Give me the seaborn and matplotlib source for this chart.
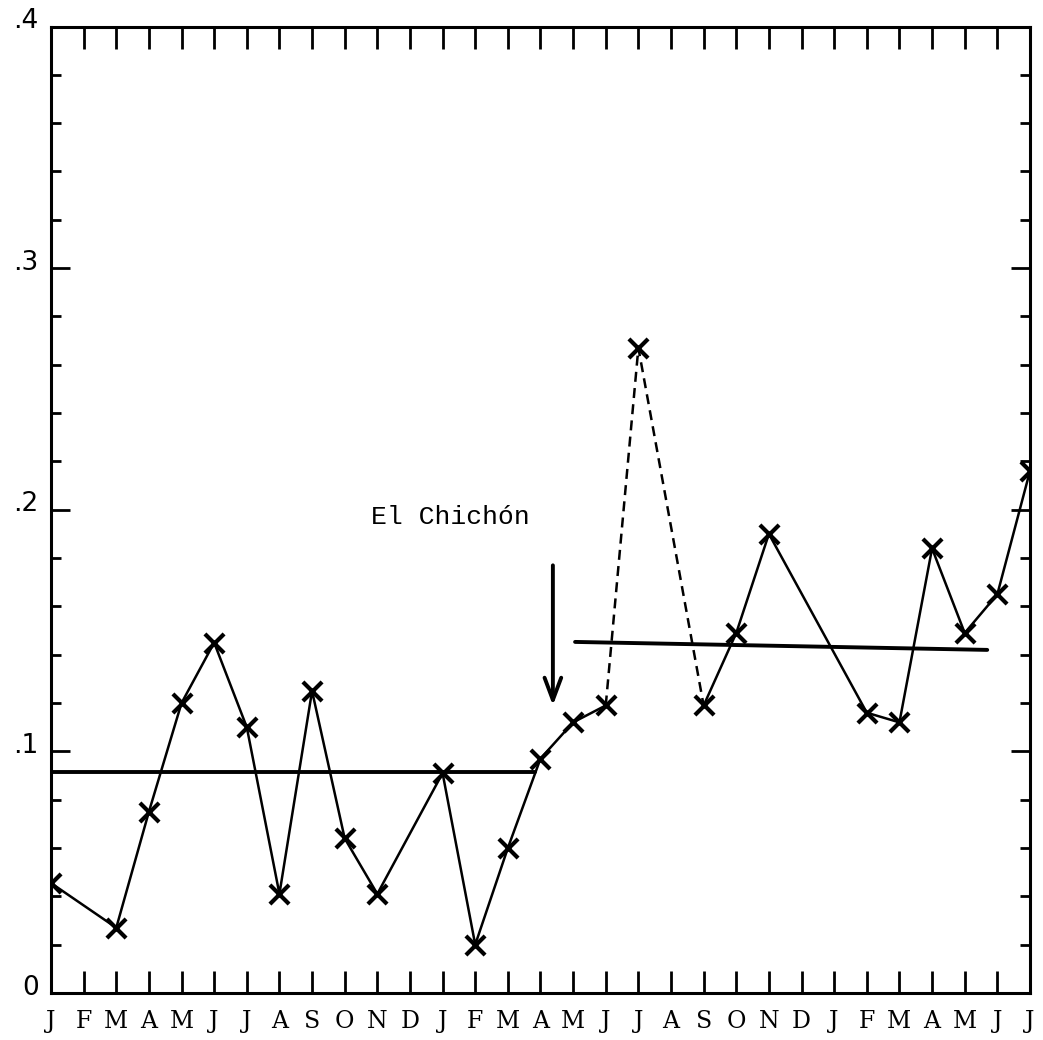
import matplotlib
matplotlib.use("Agg")
import matplotlib.pyplot as plt
import matplotlib.transforms as mtransforms
from matplotlib.ticker import MultipleLocator, FixedLocator, FixedFormatter
import pandas as pd
import seaborn as sns

# Month labels along the time axis (Jan of year 1 through Jul of year 3)
month_labels = "J F M A M J J A S O N D J F M A M J J A S O N D J F M A M J J".split()

# Monthly observations (month index from the first January)
month_idx = [0, 2, 3, 4, 5, 6, 7, 8, 9, 10, 12, 13, 14, 15, 16, 17,
             18, 20, 21, 22, 25, 26, 27, 28, 29, 30]
values = [0.0455, 0.027, 0.075, 0.120, 0.145, 0.110, 0.041, 0.125, 0.064,
          0.041, 0.091, 0.020, 0.060, 0.097, 0.112, 0.119, 0.267, 0.119,
          0.149, 0.190, 0.116, 0.112, 0.184, 0.149, 0.165, 0.216]

# Months joined by a dashed segment (uncertain spike)
dashed_months = [17, 18, 20]

# Mean levels before and after the eruption
mean_before_x = [0.0, 14.83]
mean_before_y = [0.0915, 0.0915]
mean_after_x = [16.06, 28.69]
mean_after_y = [0.1453, 0.1420]

# Eruption marker
eruption_month = 15.38
arrow_top, arrow_tip = 0.177, 0.119
label_text = "El Chichón"
label_pos = (9.80, 0.197)

y_tick_vals = [0.0, 0.1, 0.2, 0.3, 0.4]
y_tick_labels = ["0", ".1", ".2", ".3", ".4"]

sns.set_style("ticks")
plt.rcParams["font.family"] = ["DejaVu Sans"]
plt.rcParams["text.color"] = "black"
plt.rcParams["xtick.color"] = "black"
plt.rcParams["ytick.color"] = "black"
plt.rcParams["xtick.labelcolor"] = "black"
plt.rcParams["ytick.labelcolor"] = "black"

df = pd.DataFrame({"month": month_idx, "value": values})
solid_a = df[df["month"] <= 17]
dashed = df[df["month"].isin(dashed_months)]
solid_b = df[df["month"] >= 20]

fig = plt.figure(figsize=(10.43, 10.40), dpi=100)
ax = fig.add_axes([0.0489, 0.0452, 0.9386, 0.9293])

line_kw = dict(color="black", linewidth=1.8, sort=False, estimator=None, ax=ax)
sns.lineplot(data=solid_a, x="month", y="value", **line_kw)
sns.lineplot(data=solid_b, x="month", y="value", **line_kw)
sns.lineplot(data=dashed, x="month", y="value", linestyle=(0, (4, 2.5)), **line_kw)
sns.scatterplot(data=df, x="month", y="value", marker="x", s=190,
                color="black", linewidth=3.0, ax=ax, zorder=5)

ax.plot(mean_before_x, mean_before_y, color="black", linewidth=2.8)
ax.plot(mean_after_x, mean_after_y, color="black", linewidth=2.8)

ax.annotate("", xy=(eruption_month, arrow_tip), xytext=(eruption_month, arrow_top),
            arrowprops=dict(arrowstyle="->,head_length=0.8,head_width=0.3",
                            color="black", lw=2.8, mutation_scale=20,
                            shrinkA=0, shrinkB=0))
ax.text(label_pos[0], label_pos[1], label_text, fontsize=19, color="black",
        family=["Liberation Mono", "DejaVu Sans Mono"], va="center", ha="left")

ax.set_xlim(0, 30)
ax.set_ylim(0, 0.4)
ax.set_xlabel("")
ax.set_ylabel("")

ax.xaxis.set_major_locator(FixedLocator(list(range(len(month_labels)))))
ax.xaxis.set_major_formatter(FixedFormatter(month_labels))
ax.yaxis.set_major_locator(FixedLocator(y_tick_vals))
ax.yaxis.set_major_formatter(FixedFormatter(y_tick_labels))
ax.yaxis.set_minor_locator(MultipleLocator(0.02))

ax.tick_params(axis="x", which="major", direction="in", length=16, width=2.0,
               top=True, bottom=True, pad=12, labelsize=17,
               colors="black", labelcolor="black")
ax.tick_params(axis="y", which="major", direction="in", length=14, width=2.0,
               left=True, right=True, pad=9, labelsize=19,
               colors="black", labelcolor="black")
ax.tick_params(axis="y", which="minor", direction="in", length=7, width=2.0,
               left=True, right=True, colors="black")

fig.canvas.draw()
for lab in ax.get_xticklabels():
    lab.set_family(["DejaVu Serif"])
    lab.set_color("black")

# y labels sit a little above their ticks
offset = mtransforms.ScaledTranslation(0, 6 / 72, fig.dpi_scale_trans)
for lab in ax.get_yticklabels():
    lab.set_transform(lab.get_transform() + offset)
    lab.set_color("black")

for sp in ax.spines.values():
    sp.set_visible(True)
    sp.set_linewidth(2.2)
    sp.set_color("black")

fig.savefig("out.png", dpi=100)
